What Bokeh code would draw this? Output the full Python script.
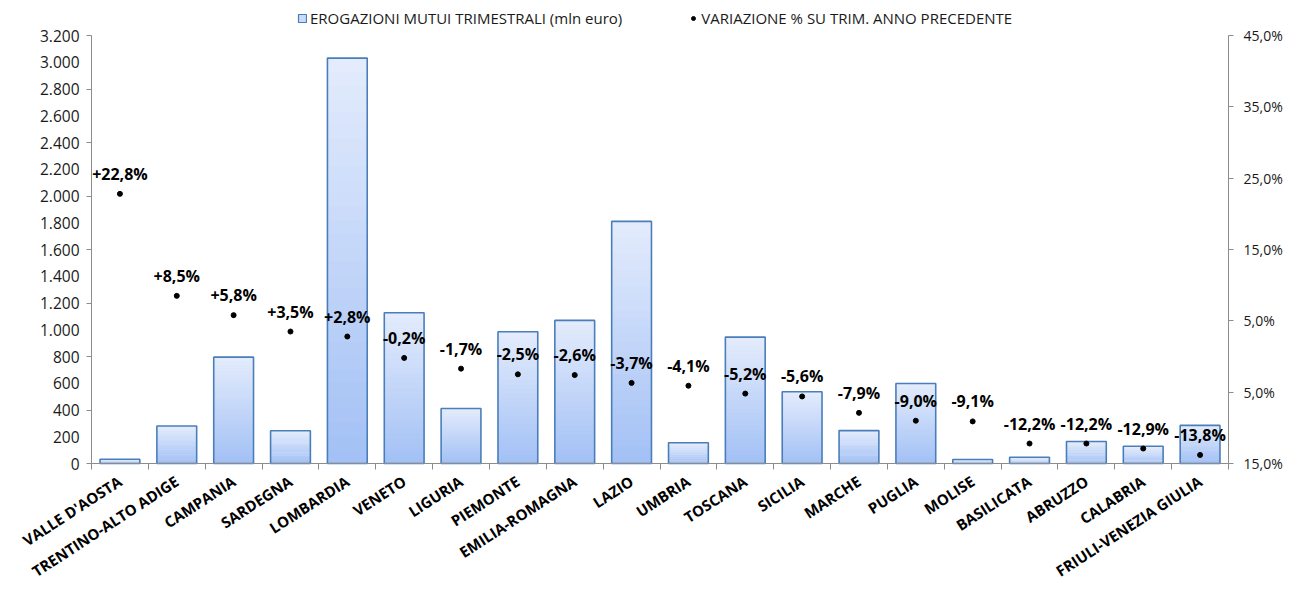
import numpy as np
from bokeh.plotting import figure
from bokeh.models import (Range1d, LinearAxis, FixedTicker, CustomJSTickFormatter,
                          ColumnDataSource, Legend, LegendItem)
from bokeh.core.properties import value
from bokeh.embed import file_html
from bokeh.resources import INLINE

regions = ["VALLE D'AOSTA", "TRENTINO-ALTO ADIGE", "CAMPANIA", "SARDEGNA", "LOMBARDIA",
           "VENETO", "LIGURIA", "PIEMONTE", "EMILIA-ROMAGNA", "LAZIO", "UMBRIA",
           "TOSCANA", "SICILIA", "MARCHE", "PUGLIA", "MOLISE", "BASILICATA",
           "ABRUZZO", "CALABRIA", "FRIULI-VENEZIA GIULIA"]
erogazioni = [32, 280, 795, 245, 3031, 1127, 411, 985, 1070, 1810, 155,
              945, 537, 246, 598, 30, 47, 164, 129, 285]
variazione = [22.8, 8.5, 5.8, 3.5, 2.8, -0.2, -1.7, -2.5, -2.6, -3.7, -4.1,
              -5.2, -5.6, -7.9, -9.0, -9.1, -12.2, -12.2, -12.9, -13.8]
left_ticks = list(range(0, 3201, 200))
right_ticks = [-15, -5, 5, 15, 25, 35, 45]

FONT = "Open Sans"
TXT = "#1a1a1a"
GREY = "#8c8c8c"

n = len(regions)
xs = np.arange(n) + 0.5

# The frame covers the whole figure; the three axes are pinned (fixed_location)
# and bounded so that the plotting area runs from x=91..1228 px and y=35..463 px.
W, H = 1284.0, 584.0
X_L, X_R = 91.0, 1228.0
Y_ZERO, Y_TOP = 463.0, 35.0
ppc = (X_R - X_L) / n
x_start = -X_L / ppc
x_end = n + (W - X_R) / ppc
ppu = (Y_ZERO - Y_TOP) / 3200.0
y_start = -(H - Y_ZERO) / ppu
y_end = Y_ZERO / ppu
ppp = (Y_ZERO - Y_TOP) / 60.0
pct_start = -15 - (H - Y_ZERO) / ppp
pct_end = -15 + Y_ZERO / ppp

p = figure(width=int(W), height=int(H), output_backend="svg", toolbar_location=None,
           x_range=Range1d(x_start, x_end), y_range=Range1d(y_start, y_end),
           min_border_left=0, min_border_right=0, min_border_top=0, min_border_bottom=0)
p.grid.visible = False
p.outline_line_color = None
p.extra_y_ranges = {"pct": Range1d(pct_start, pct_end)}

# gradient bars (slices from bottom to top of each bar)
N = 30
top_c = np.array([228, 236, 252])
bot_c = np.array([162, 192, 245])
sx, sb, st, sc = [], [], [], []
for i, v in enumerate(erogazioni):
    for k in range(N):
        f = (k + 0.5) / N
        c = bot_c + (top_c - bot_c) * f
        sx.append(xs[i])
        sb.append(v * k / N)
        st.append(min(v, v * (k + 1.4) / N))
        sc.append("#%02x%02x%02x" % tuple(int(round(t)) for t in c))
p.vbar(x=sx, bottom=sb, top=st, width=0.7, fill_color=sc, line_color=None)
bars_src = ColumnDataSource(dict(x=xs, top=erogazioni))
p.vbar(x="x", top="top", bottom=0, width=0.7, source=bars_src, fill_color=None,
       line_color="#4a7ebb", line_width=1.6)

# legend proxy for bars
bar_proxy = p.vbar(x=[np.nan], top=[np.nan], width=0.7, fill_color="#c9dbf8",
                   line_color="#4a7ebb", line_width=1.2)

# dots + labels
labels = [("+" if v > 0 else "") + ("%.1f" % v).replace(".", ",") + "%" for v in variazione]
dsrc = ColumnDataSource(dict(x=xs, y=variazione, lab=labels))
dots = p.scatter(x="x", y="y", source=dsrc, y_range_name="pct", size=5,
                 fill_color="black", line_color="black")
p.text(x="x", y="y", text="lab", source=dsrc, y_range_name="pct", text_align="center",
       text_baseline="bottom", y_offset=-9, text_font=value(FONT), text_font_style="bold",
       text_font_size="16px", text_color="black")

# category axis (pinned at value 0)
xa = p.xaxis[0]
xa.fixed_location = 0
xa.bounds = (0, n)
xa.ticker = FixedTicker(ticks=list(xs), minor_ticks=list(range(0, n + 1)))
xa.major_label_overrides = {float(x): r for x, r in zip(xs, regions)}
xa.major_tick_line_color = None
xa.minor_tick_line_color = GREY
xa.minor_tick_in = 0
xa.minor_tick_out = 6
xa.axis_line_color = GREY
xa.major_label_orientation = np.deg2rad(33)
xa.major_label_standoff = 10
xa.major_label_text_font = FONT
xa.major_label_text_font_style = "bold"
xa.major_label_text_font_size = "15px"
xa.major_label_text_color = "black"

# left axis (pinned at x=0)
ya = p.yaxis[0]
ya.fixed_location = 0
ya.bounds = (0, 3200)
ya.ticker = FixedTicker(ticks=left_ticks, minor_ticks=list(range(0, 3201, 400)))
ya.formatter = CustomJSTickFormatter(code="return String(Math.round(tick)).replace(/\\B(?=(\\d{3})+(?!\\d))/g, '.');")
ya.major_tick_line_color = None
ya.minor_tick_line_color = GREY
ya.minor_tick_in = 0
ya.minor_tick_out = 5
ya.axis_line_color = GREY
ya.major_label_standoff = 6
ya.major_label_text_font = FONT
ya.major_label_text_font_size = "15.5px"
ya.major_label_text_color = TXT

# right axis (pinned at x=n)
ra = LinearAxis(y_range_name="pct", bounds=(-15, 45), fixed_location=n,
                ticker=FixedTicker(ticks=right_ticks, minor_ticks=[]))
ra.formatter = CustomJSTickFormatter(code="return Math.abs(tick).toFixed(1).replace('.', ',') + '%';")
ra.major_tick_line_color = GREY
ra.major_tick_in = 0
ra.major_tick_out = 5
ra.axis_line_color = GREY
ra.major_label_standoff = 10
ra.major_label_text_font = FONT
ra.major_label_text_font_size = "14px"
ra.major_label_text_color = TXT
p.add_layout(ra, "right")

legend = Legend(items=[LegendItem(label="EROGAZIONI MUTUI TRIMESTRALI (mln euro)", renderers=[bar_proxy]),
                       LegendItem(label="VARIAZIONE % SU TRIM. ANNO PRECEDENTE", renderers=[dots])],
                orientation="horizontal", location=(X_L + 206, H - 28), padding=0, margin=0,
                spacing=66, glyph_width=10, glyph_height=10, label_standoff=3,
                border_line_color=None, background_fill_alpha=0,
                label_text_font=FONT, label_text_font_size="15px", label_text_color=TXT)
p.add_layout(legend, "center")

open("out.html", "w").write(file_html(p, INLINE))
